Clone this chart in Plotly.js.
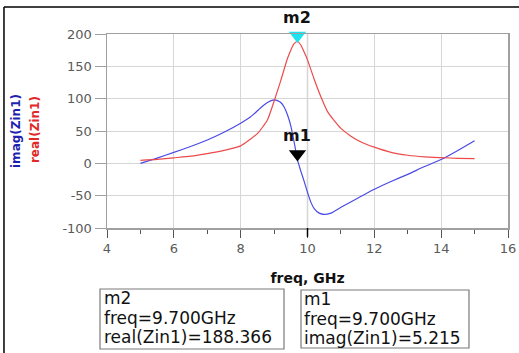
<!DOCTYPE html>
<html><head><meta charset="utf-8">
<script src="https://cdn.plot.ly/plotly-3.0.1.min.js"></script>
<style>html,body{margin:0;padding:0;background:#fff}</style>
</head><body><div id="chart" style="width:519px;height:353px"></div>
<script>
// real(Zin1) vs frequency (GHz)
const freqReal = [5,5.5,6,6.5,7,7.5,8,8.5,8.8,9.0,9.2,9.4,9.5,9.6,9.7,9.8,9.9,10.0,10.2,10.4,10.6,10.8,11.0,11.3,11.6,12.0,12.5,13.0,13.5,14.0,14.5,15.0];
const realZin1 = [4.5,6,8.5,11,15,20,27,46,67,96,128,162,175,185,188.4,183,172,160,130,103,80,66,54,42,33,25,17,12.5,10,8.8,7.8,7.2];
// imag(Zin1) vs frequency (GHz)
const freqImag = [5,5.5,6,6.5,7,7.5,8,8.3,8.6,8.8,9.0,9.1,9.2,9.3,9.4,9.5,9.6,9.7,9.8,9.9,10.0,10.1,10.2,10.35,10.5,10.7,11.0,11.5,12.0,12.5,13.0,13.5,14.0,14.5,15.0];
const imagZin1 = [0,8,17,26,36,48,62,72,86,94,98,97,94,87,75,58,33,5.2,-12,-28,-45,-60,-70,-77,-79,-77,-68,-54,-40,-28,-17,-5,6,20,35];
// markers
const markerNames = ['m2','m1'];
const markerFreq = [9.7, 9.7];
const markerValue = [188.366, 5.215];
const markerExpr = ['real(Zin1)','imag(Zin1)'];
const markerColors = ['#1ee3ee','#000000'];
// axes
const xTicks = [4,6,8,10,12,14,16];
const yTicks = [-100,-50,0,50,100,150,200];
const refLineFreq = [10];

const font = 'DejaVu Sans, Arial, sans-serif';

const traces = [
  {x: freqImag, y: imagZin1, type:'scatter', mode:'lines', name:'imag(Zin1)',
   line:{color:'#4a4ae6', width:1.2, shape:'spline', smoothing:0.5}},
  {x: freqReal, y: realZin1, type:'scatter', mode:'lines', name:'real(Zin1)',
   line:{color:'#ec4a4a', width:1.2, shape:'spline', smoothing:0.5}},
  {x: markerFreq, y: markerValue, type:'scatter', mode:'markers', cliponaxis:false,
   marker:{symbol:'triangle-up', angle:180, standoff:6, size:15, color:markerColors, line:{width:0}}}
];

const annotations = [];
markerNames.forEach((n,i)=>{
  annotations.push({x:markerFreq[i], y:markerValue[i], xref:'x', yref:'y', text:'<b>'+n+'</b>',
    showarrow:false, yshift:24, font:{family:font, size:16, color:'#111'}});
});
// marker readout boxes
const boxX = [-0.0137, 0.4875];
const lineY = [-0.3608, -0.4639, -0.5619];
markerNames.forEach((n,i)=>{
  const lines = [n, 'freq=' + markerFreq[i].toFixed(3) + 'GHz', markerExpr[i] + '=' + markerValue[i]];
  lines.forEach((t,j)=>{
    annotations.push({xref:'paper', yref:'paper', x:boxX[i], y:lineY[j] + (i===1?-0.004:0), xanchor:'left', yanchor:'middle',
      text:t, showarrow:false, font:{family:font, size:17, color:'#111'}});
  });
});
annotations.push({xref:'paper', yref:'paper', x:-0.2494, y:0.5, textangle:-90, showarrow:false,
  text:'<b>imag(Zin1)</b>', font:{family:font, size:12, color:'#1f1fb0'}});
annotations.push({xref:'paper', yref:'paper', x:-0.202, y:0.51, textangle:-90, showarrow:false,
  text:'<b>real(Zin1)</b>', font:{family:font, size:12, color:'#e02828'}});

const shapes = [
  // readout boxes
  {type:'rect', xref:'paper', yref:'paper', x0:-0.01746, x1:0.4414, y0:-0.6237, y1:-0.3144, line:{color:'#7a7a7a', width:1.2}},
  {type:'rect', xref:'paper', yref:'paper', x0:0.4838, x1:0.9027, y0:-0.6186, y1:-0.3196, line:{color:'#7a7a7a', width:1.2}},
  // outer frame (top and left)
  {type:'line', xref:'paper', yref:'paper', x0:-0.2569, x1:1.03, y0:1.1392, y1:1.1392, line:{color:'#000', width:1.5}},
  {type:'line', xref:'paper', yref:'paper', x0:-0.2569, x1:-0.2569, y0:1.1392, y1:-0.66, line:{color:'#000', width:1.5}}
];
refLineFreq.forEach(f=>{
  shapes.push({type:'line', xref:'x', yref:'paper', x0:f, x1:f, y0:0, y1:1, line:{color:'#8c8c8c', width:1.2}, layer:'below'});
  shapes.push({type:'line', xref:'x', yref:'paper', x0:f, x1:f, y0:-0.045, y1:0, line:{color:'#000', width:1.5}});
});

const layout = {
  width:519, height:353, margin:{l:107, r:11, t:34, b:125},
  paper_bgcolor:'#fff', plot_bgcolor:'#fff', showlegend:false,
  font:{family:font},
  xaxis:{range:[4,16], tickvals:xTicks, ticktext:xTicks.map(String), showgrid:true, gridcolor:'#d6d6d6', gridwidth:1,
    showline:true, linecolor:'#a0a0a0', linewidth:1.5, mirror:true, zeroline:false,
    ticks:'outside', ticklen:8, tickcolor:'#555', tickwidth:1,
    minor:{dtick:1, tick0:4, ticks:'outside', ticklen:4, tickcolor:'#555', showgrid:false},
    tickfont:{family:font, size:13, color:'#5a5a5a'},
    title:{text:'<b>freq, GHz</b>', font:{family:font, size:14, color:'#111'}, standoff:18}},
  yaxis:{range:[-100,200], tickvals:yTicks, ticktext:yTicks.map(String), showgrid:true, gridcolor:'#d6d6d6', gridwidth:1,
    showline:true, linecolor:'#a0a0a0', linewidth:1.5, mirror:true, zeroline:false,
    ticks:'outside', ticklen:11, tickcolor:'#a0a0a0', tickwidth:1,
    tickfont:{family:font, size:13, color:'#5a5a5a'}},
  annotations, shapes
};
Plotly.newPlot('chart', traces, layout, {displayModeBar:false, staticPlot:true});
</script></body></html>
